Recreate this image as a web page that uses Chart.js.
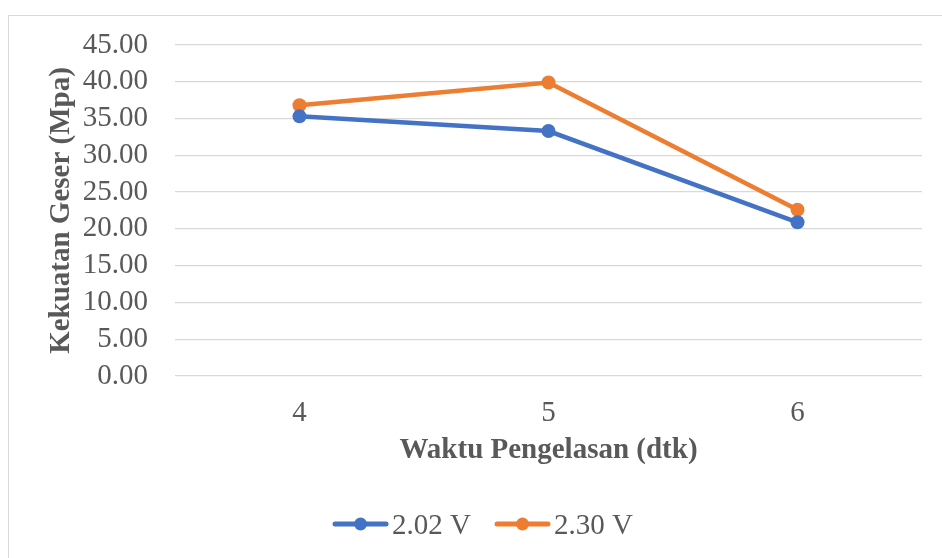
<!DOCTYPE html>
<html>
<head>
<meta charset="utf-8">
<script src="https://cdn.jsdelivr.net/npm/chart.js@4"></script>
<style>
  body { margin: 0; background: #fff; overflow: hidden; }
  #frame { position: absolute; left: 8px; top: 15px; width: 1000px; height: 600px; border: 1px solid #d9d9d9; box-sizing: border-box; }
  #wrap { position: absolute; left: 0; top: 0; width: 942px; height: 558px; }
</style>
</head>
<body>
<div id="frame"></div>
<div id="wrap"><canvas id="chart"></canvas></div>
<script>
// --- data ---
const waktu = ["4", "5", "6"];
const seri202 = [35.3, 33.3, 20.9];
const seri230 = [36.8, 39.9, 22.6];
const yTicks = [0, 5, 10, 15, 20, 25, 30, 35, 40, 45];

const grey = "#595959";
const serif = "'Liberation Serif', 'Times New Roman', serif";

// legend drawn by hand: line + dot, like the office style
const lineLegend = {
  id: "lineLegend",
  afterDraw(chart) {
    const ctx = chart.ctx;
    const sets = chart.data.datasets;
    const lineW = 55, gap = 4, between = 24;
    ctx.save();
    ctx.font = "29px " + serif;
    const widths = sets.map(s => lineW + gap + ctx.measureText(s.label).width);
    const total = widths.reduce((a, b) => a + b, 0) + between * (sets.length - 1);
    let x = 483 - total / 2;
    const y = 524;
    sets.forEach((s, i) => {
      ctx.strokeStyle = s.borderColor;
      ctx.lineWidth = 5;
      ctx.lineCap = "round";
      ctx.beginPath();
      ctx.moveTo(x + 2, y);
      ctx.lineTo(x + lineW - 2, y);
      ctx.stroke();
      ctx.fillStyle = s.borderColor;
      ctx.beginPath();
      ctx.arc(x + lineW / 2, y, 6.5, 0, Math.PI * 2);
      ctx.fill();
      ctx.fillStyle = grey;
      ctx.textBaseline = "alphabetic";
      ctx.fillText(s.label, x + lineW + gap, y + 10);
      x += widths[i] + between;
    });
    ctx.restore();
  }
};

new Chart(document.getElementById("chart"), {
  type: "line",
  data: {
    labels: waktu,
    datasets: [
      { label: "2.02 V", data: seri202, borderColor: "#4472C4", backgroundColor: "#4472C4" },
      { label: "2.30 V", data: seri230, borderColor: "#ED7D31", backgroundColor: "#ED7D31" }
    ]
  },
  options: {
    responsive: true,
    maintainAspectRatio: false,
    animation: false,
    layout: { padding: { top: 45, right: 20, bottom: 82, left: 0 } },
    elements: {
      line: { borderWidth: 4.5, tension: 0 },
      point: { radius: 7, hoverRadius: 7, borderWidth: 0 }
    },
    plugins: { legend: { display: false }, tooltip: { enabled: false } },
    scales: {
      x: {
        offset: true,
        grid: { display: false, drawTicks: false },
        border: { display: false },
        ticks: { color: grey, font: { family: serif, size: 29 }, padding: 20 },
        title: {
          display: true, text: "Waktu Pengelasan (dtk)", color: grey,
          font: { family: serif, size: 29, weight: "bold" }, padding: { top: 0, bottom: 8 }
        },
        afterFit(scale) { scale.height = 100; }
      },
      y: {
        min: 0, max: 45,
        afterBuildTicks(scale) { scale.ticks = yTicks.map(v => ({ value: v })); },
        grid: { color: "#d9d9d9", lineWidth: 1.3, drawTicks: false },
        border: { display: false },
        ticks: {
          color: grey, font: { family: serif, size: 29 }, padding: 27, autoSkip: false,
          callback: v => Number(v).toFixed(2)
        },
        title: {
          display: true, text: "Kekuatan Geser (Mpa)", color: grey,
          font: { family: serif, size: 29, weight: "bold" }, padding: { top: 44, bottom: 0 }
        },
        afterFit(scale) { scale.width = 175; }
      }
    }
  },
  plugins: [lineLegend]
});
</script>
</body>
</html>
